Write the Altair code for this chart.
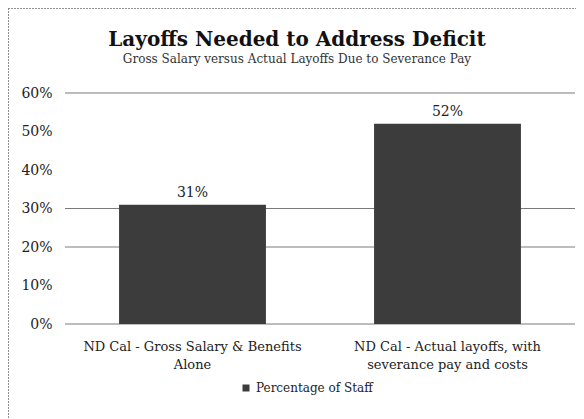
import altair as alt
import pandas as pd

categories = ["ND Cal - Gross Salary & Benefits|Alone",
              "ND Cal - Actual layoffs, with|severance pay and costs"]
values = [0.31, 0.52]
series = ["Percentage of Staff", "Percentage of Staff"]
grid_values = [0.0, 0.2, 0.3, 0.6]
tick_values = [0.0, 0.1, 0.2, 0.3, 0.4, 0.5, 0.6]

df = pd.DataFrame({"category": categories, "value": values, "series": series})
grid_df = pd.DataFrame({"g": grid_values})

FONT = "DejaVu Serif"

x_enc = alt.X("category:N", sort=categories, title=None,
              scale=alt.Scale(paddingInner=0.424, paddingOuter=0.212),
              axis=alt.Axis(labelExpr="split(datum.label, '|')", labelAngle=0,
                            ticks=False, domain=False, labelPadding=16,
                            labelLineHeight=18, labelFontSize=13, labelFont=FONT,
                            labelColor="#222", labelLimit=400))
y_scale = alt.Scale(domain=[0, 0.6], nice=False, zero=True)
y_axis = alt.Axis(values=tick_values, format=".0%", grid=False, ticks=False,
                  domain=False, labelPadding=13, labelFontSize=14,
                  labelOverlap=False, labelFont=FONT, labelColor="#222",
                  title=None, minExtent=57, maxExtent=57, tickCount=7)

grid = alt.Chart(grid_df).mark_rule(color="#7a7a7a", strokeWidth=1).encode(
    y=alt.Y("g:Q", scale=y_scale, axis=y_axis, title=None)
)

bars = alt.Chart(df).mark_bar(color="#3c3c3c").encode(
    x=x_enc,
    y=alt.Y("value:Q", scale=y_scale, axis=y_axis, title=None),
    color=alt.Color("series:N", scale=alt.Scale(range=["#3c3c3c"]),
                    legend=alt.Legend(title=None, orient="none", legendX=175, legendY=289,
                                      symbolType="square", symbolSize=49,
                                      labelFont=FONT, labelFontSize=12, labelColor="#222"))
)

labels = alt.Chart(df).mark_text(dy=-12, font=FONT, fontSize=14, color="#222").encode(
    x=alt.X("category:N", sort=categories),
    y=alt.Y("value:Q", scale=y_scale, axis=y_axis, title=None),
    text=alt.Text("value:Q", format=".0%")
)

border_left = alt.Chart(grid_df).mark_rule(color="#888", strokeDash=[1, 2], strokeWidth=1).encode(
    x=alt.value(-56.5), y=alt.value(-84.5), y2=alt.value(330))
border_top = alt.Chart(grid_df).mark_rule(color="#888", strokeDash=[1, 2], strokeWidth=1).encode(
    x=alt.value(-56.5), x2=alt.value(520), y=alt.value(-84.5))

chart = alt.layer(border_left, border_top, grid, bars, labels).properties(
    width=510, height=231,
    autosize=alt.AutoSizeParams(type="none"),
    padding={"left": 57, "top": 85, "right": 1, "bottom": 95},
    title=alt.TitleParams(
        text="Layoffs Needed to Address Deficit",
        subtitle="Gross Salary versus Actual Layoffs Due to Severance Pay",
        anchor="middle", dx=-23, offset=-57,
        font=FONT, fontSize=20, fontWeight="bold", color="#111",
        subtitleFont=FONT, subtitleFontSize=12, subtitleColor="#333", subtitlePadding=4)
).configure_view(stroke=None)

chart.save("out.html", embed_options={"renderer": "svg", "actions": False})
